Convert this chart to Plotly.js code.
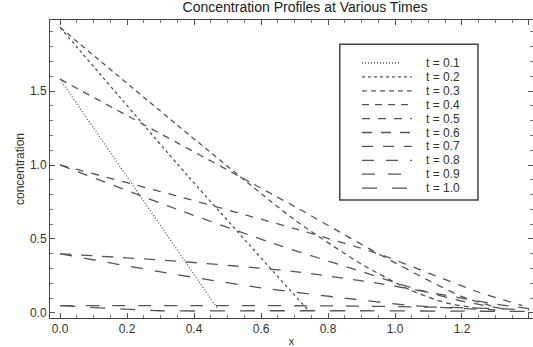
<!DOCTYPE html>
<html>
<head>
<meta charset="utf-8">
<script src="https://cdn.plot.ly/plotly-3.0.1.min.js"></script>
<style>html,body{margin:0;padding:0;background:#fff;}#chart{width:533px;height:347px;}</style>
</head>
<body>
<div id="chart"></div>
<script>
// ---- data ----
const labels = ["t = 0.1","t = 0.2","t = 0.3","t = 0.4","t = 0.5","t = 0.6","t = 0.7","t = 0.8","t = 0.9","t = 1.0"];
const x_t01 = [0, 0.47];                              const c_t01 = [1.58, 0.03];
const x_t02 = [0, 0.38, 0.74];                        const c_t02 = [1.93, 0.93, 0.02];
const x_t03 = [0, 0.35, 0.7, 0.9, 1.05, 1.15, 1.25];  const c_t03 = [1.93, 1.27, 0.63, 0.33, 0.15, 0.07, 0.03];
const x_t04 = [0, 0.35, 0.7, 0.95, 1.1, 1.2, 1.3];    const c_t04 = [1.58, 1.15, 0.72, 0.40, 0.22, 0.11, 0.04];
const x_t05 = [0, 0.35, 0.7, 0.95, 1.1, 1.25, 1.38];  const c_t05 = [1.0, 0.79, 0.57, 0.40, 0.27, 0.14, 0.05];
const x_t06 = [0, 0.35, 0.65, 0.9, 1.05, 1.2, 1.32];  const c_t06 = [1.0, 0.70, 0.46, 0.28, 0.17, 0.08, 0.03];
const x_t07 = [0, 0.35, 0.7, 0.95, 1.15, 1.3, 1.4];   const c_t07 = [0.40, 0.35, 0.28, 0.20, 0.12, 0.06, 0.03];
const x_t08 = [0, 0.32, 0.6, 0.85, 1.05, 1.2, 1.3];   const c_t08 = [0.40, 0.27, 0.17, 0.10, 0.05, 0.03, 0.02];
const x_t09 = [0, 0.4, 0.8, 1.1, 1.3, 1.4];           const c_t09 = [0.05, 0.05, 0.048, 0.04, 0.03, 0.02];
const x_t10 = [0, 0.3, 0.6, 0.9, 1.2, 1.4];           const c_t10 = [0.05, 0.015, 0.015, 0.015, 0.012, 0.01];
const xTicks = [0, 0.2, 0.4, 0.6, 0.8, 1.0, 1.2, 1.4];
const xTickText = ["0.0","0.2","0.4","0.6","0.8","1.0","1.2","1.4"];
const yTicks = [0, 0.5, 1.0, 1.5];
const yTickText = ["0.0","0.5","1.0","1.5"];

// ---- styles ----
const xs = [x_t01,x_t02,x_t03,x_t04,x_t05,x_t06,x_t07,x_t08,x_t09,x_t10];
const cs = [c_t01,c_t02,c_t03,c_t04,c_t05,c_t06,c_t07,c_t08,c_t09,c_t10];
const dashes = ["1px,2px","3px,3px","5px,4px","7px,6px","8px,8px","10px,9px","11px,10px","12px,12px","13px,13px","15px,15px"];
const lineColor = "#555";
const FONT = "Liberation Sans, Arial, sans-serif";

const traces = xs.map((x,i)=>({
  type:"scatter", mode:"lines", x:x, y:cs[i], name:labels[i],
  line:{color:lineColor, width:1.3, dash:dashes[i], shape:"spline", smoothing:0.6}, showlegend:false
}));

// custom legend (paper coords of plot area)
const shapes = [{type:"rect", xref:"paper", yref:"paper", x0:0.600, x1:0.886, y0:0.396, y1:0.919,
  line:{color:"#444", width:1.5}, fillcolor:"rgba(0,0,0,0)"}];
const annotations = [];
labels.forEach((lab,i)=>{
  const py = 63 + 13.9*i;
  const yp = (318-py)/298;
  shapes.push({type:"line", xref:"paper", yref:"paper", x0:0.646, x1:(i===0?0.724:0.749), y0:yp, y1:yp,
    line:{color:lineColor, width:1.3, dash:dashes[i]}});
  annotations.push({xref:"paper", yref:"paper", x:0.774, y:yp, xanchor:"left", yanchor:"middle",
    text:lab, showarrow:false, font:{family:FONT, size:12, color:"#333"}});
});

const layout = {
  width:533, height:347,
  margin:{l:50, r:0, t:20, b:29},
  paper_bgcolor:"#fff", plot_bgcolor:"#fff",
  title:{text:"Concentration Profiles at Various Times", x:0.528, xref:"paper", y:0.995, yanchor:"top",
    font:{family:FONT, size:14, color:"#222"}},
  font:{family:FONT, size:12, color:"#333"},
  xaxis:{range:[-0.03,1.412], tickvals:xTicks, ticktext:xTickText, ticks:"inside", ticklen:5, tickcolor:"#555",
    showline:true, linecolor:"#444", linewidth:1, mirror:"ticks", showgrid:false, zeroline:false,
    tickfont:{size:12, color:"#333"},
    minor:{dtick:0.05, tick0:0, ticks:"inside", ticklen:3, tickcolor:"#777"},
    title:{text:"x", standoff:2, font:{size:11, color:"#333"}}},
  yaxis:{range:[-0.034,1.98], tickvals:yTicks, ticktext:yTickText, ticks:"inside", ticklen:5, tickcolor:"#555",
    showline:true, linecolor:"#444", linewidth:1, mirror:"ticks", showgrid:false, zeroline:false,
    tickfont:{size:12, color:"#333"},
    minor:{dtick:0.1, tick0:0, ticks:"inside", ticklen:3, tickcolor:"#777"},
    title:{text:"concentration", standoff:2, font:{size:12, color:"#333"}}},
  shapes:shapes, annotations:annotations
};
Plotly.newPlot("chart", traces, layout, {staticPlot:true, displayModeBar:false});
</script>
</body>
</html>
